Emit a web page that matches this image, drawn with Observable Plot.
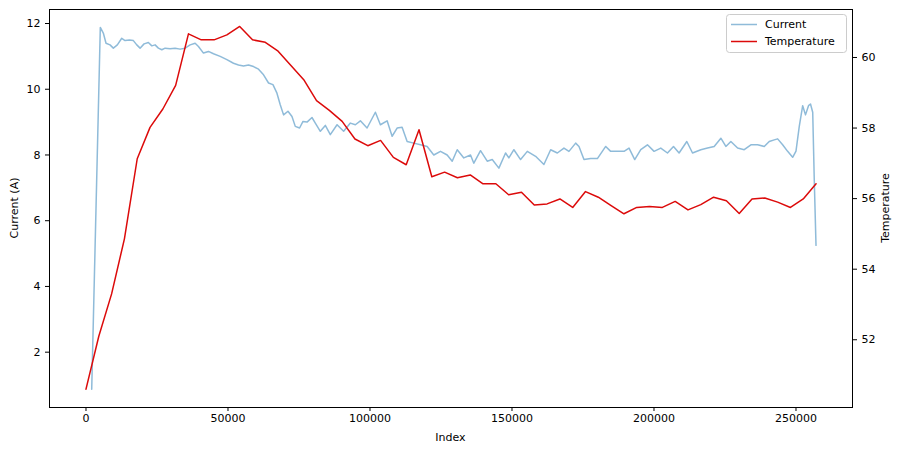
<!DOCTYPE html>
<html><head><meta charset="utf-8">
<script src="https://cdn.jsdelivr.net/npm/d3@7"></script>
<script src="https://cdn.jsdelivr.net/npm/@observablehq/plot@0.6"></script>
<style>body{margin:0;background:#fff}</style>
</head><body><div id="chart"></div>
<script>
const currentIndex = [2010,5040,6100,7050,8460,9630,11040,12590,13750,15270,16680,17880,19040,20450,21970,23170,24330,25490,26690,27860,29620,31380,33140,34910,36670,38430,39600,41360,43120,44890,47250,49610,51940,53700,55460,57230,58990,60750,62520,64280,65830,67240,68400,69570,71120,72530,73690,75210,76410,77820,79580,80750,82510,84270,86030,88400,90720,93090,94850,96610,98970,101900,103660,106030,107790,109550,111310,113080,115410,117770,120130,122460,124820,127180,128950,130710,133040,135400,136560,138920,141280,143050,145380,147740,148900,150670,153030,155390,158320,161240,163610,165970,168300,170060,172420,173590,175350,177710,180070,183000,184760,187120,189450,191210,193220,195340,197700,200030,202390,204750,206870,208840,211560,213570,216500,218860,221190,223550,225310,227070,229440,231770,234130,236490,238820,240580,242340,243540,245300,247060,248830,250000,251160,252360,253350,254410,255110,255890,256450,257050];
const currentValues = [0.87,11.88,11.71,11.40,11.35,11.25,11.35,11.55,11.48,11.50,11.48,11.35,11.25,11.38,11.42,11.32,11.35,11.25,11.20,11.25,11.23,11.25,11.22,11.25,11.35,11.40,11.30,11.10,11.15,11.08,11.00,10.90,10.79,10.74,10.71,10.74,10.69,10.61,10.44,10.19,10.14,9.88,9.53,9.22,9.33,9.17,8.87,8.82,9.02,9.00,9.14,8.97,8.72,8.90,8.62,8.92,8.72,8.97,8.92,9.04,8.82,9.30,8.92,9.04,8.57,8.82,8.84,8.41,8.36,8.31,8.26,8.00,8.11,8.00,7.81,8.16,7.91,8.00,7.75,8.13,7.81,7.86,7.60,8.06,7.91,8.16,7.86,8.11,7.96,7.71,8.16,8.06,8.21,8.11,8.36,8.26,7.86,7.89,7.89,8.26,8.11,8.11,8.11,8.21,7.86,8.16,8.31,8.11,8.21,8.06,8.26,8.06,8.41,8.06,8.16,8.21,8.26,8.51,8.26,8.41,8.21,8.16,8.31,8.31,8.26,8.41,8.46,8.49,8.31,8.11,7.93,8.12,8.87,9.50,9.22,9.50,9.55,9.30,7.20,5.25];
const tempIndex = [0,4510,9020,13530,18040,22550,27060,31570,36080,40590,45100,49610,54120,58630,63140,67650,72160,76670,81180,85690,90200,94710,99220,103730,108240,112750,117260,121770,126280,130790,135300,139810,144320,148830,153340,157850,162360,166870,171380,175890,180400,184910,189420,193930,198440,202950,207460,211970,216480,220990,225500,230010,234520,239030,243540,248050,252560,257070];
const tempValues = [50.60,52.10,53.30,54.86,57.13,58.02,58.54,59.21,60.67,60.50,60.50,60.64,60.88,60.50,60.43,60.18,59.77,59.37,58.78,58.50,58.19,57.69,57.50,57.65,57.17,56.96,57.95,56.62,56.75,56.59,56.67,56.42,56.42,56.11,56.18,55.82,55.85,55.99,55.75,56.20,56.04,55.80,55.57,55.75,55.78,55.75,55.92,55.68,55.83,56.04,55.94,55.58,55.99,56.02,55.90,55.75,55.99,56.42];
const xTicks = [0,50000,100000,150000,200000,250000];
const currentTicks = [2,4,6,8,10,12];
const tempTicks = [52,54,56,58,60];
const seriesNames = ["Current","Temperature"];

const curDomain = [0.317, 12.426];
const tempDomain = [50.08, 61.36];
const tToY = d3.scaleLinear().domain(tempDomain).range(curDomain);
const current = currentIndex.map((x, i) => ({x, v: currentValues[i]}));
const temp = tempIndex.map((x, i) => ({x, y: tToY(tempValues[i])}));

const RED = "#dc0a0a";
const W = 900, H = 453, mL = 49, mR = 48, mT = 9, mB = 46;
const plot = Plot.plot({
  width: W, height: H, marginLeft: mL, marginRight: mR, marginTop: mT, marginBottom: mB,
  style: {fontFamily: "DejaVu Sans", fontSize: "11px", color: "#000", background: "#fff"},
  x: {domain: [-12850, 269900]},
  y: {domain: curDomain},
  marks: [
    Plot.line(current, {x: "x", y: "v", stroke: "#1f77b4", strokeOpacity: 0.5, strokeWidth: 1.5}),
    Plot.line(temp, {x: "x", y: "y", stroke: RED, strokeWidth: 1.5}),
    Plot.axisX({ticks: xTicks, tickFormat: d3.format("d"), tickSize: 4, tickPadding: 3, label: null}),
    Plot.axisY({ticks: currentTicks, tickSize: 4, tickPadding: 5, label: null}),
    Plot.axisY({anchor: "right", ticks: tempTicks.map(tToY), tickFormat: d => Math.round(tToY.invert(d)), tickSize: 4, tickPadding: 5, label: null}),
    Plot.frame({stroke: "black", strokeWidth: 1})
  ]
});
document.getElementById("chart").append(plot);

const svg = d3.select(plot);
const cx = (mL + W - mR) / 2, cy = (mT + H - mB) / 2;
const lab = svg.append("g").attr("font-family", "DejaVu Sans").attr("font-size", 11).attr("fill", "#000");
lab.append("text").attr("x", cx).attr("y", 441).attr("text-anchor", "middle").text("Index");
lab.append("text").attr("transform", `translate(18,${cy}) rotate(-90)`).attr("text-anchor", "middle").text("Current (A)");
lab.append("text").attr("transform", `translate(889,${cy}) rotate(-90)`).attr("text-anchor", "middle").text("Temperature");

const lg = svg.append("g").attr("font-family", "DejaVu Sans").attr("font-size", 11).attr("text-anchor", "start");
lg.append("rect").attr("x", 726.5).attr("y", 14.5).attr("width", 120).attr("height", 38).attr("rx", 3)
  .attr("fill", "#fff").attr("fill-opacity", 0.8).attr("stroke", "#ccc");
const lcolors = [{c: "#1f77b4", o: 0.5}, {c: RED, o: 1}];
seriesNames.forEach((n, i) => {
  const yy = 24.5 + i * 17;
  lg.append("line").attr("x1", 731).attr("x2", 757).attr("y1", yy).attr("y2", yy)
    .attr("stroke", lcolors[i].c).attr("stroke-opacity", lcolors[i].o).attr("stroke-width", 1.5);
  lg.append("text").attr("x", 765).attr("y", yy).attr("dy", "0.35em").attr("text-anchor", "start").attr("fill", "#000").text(n);
});
</script>
</body></html>
